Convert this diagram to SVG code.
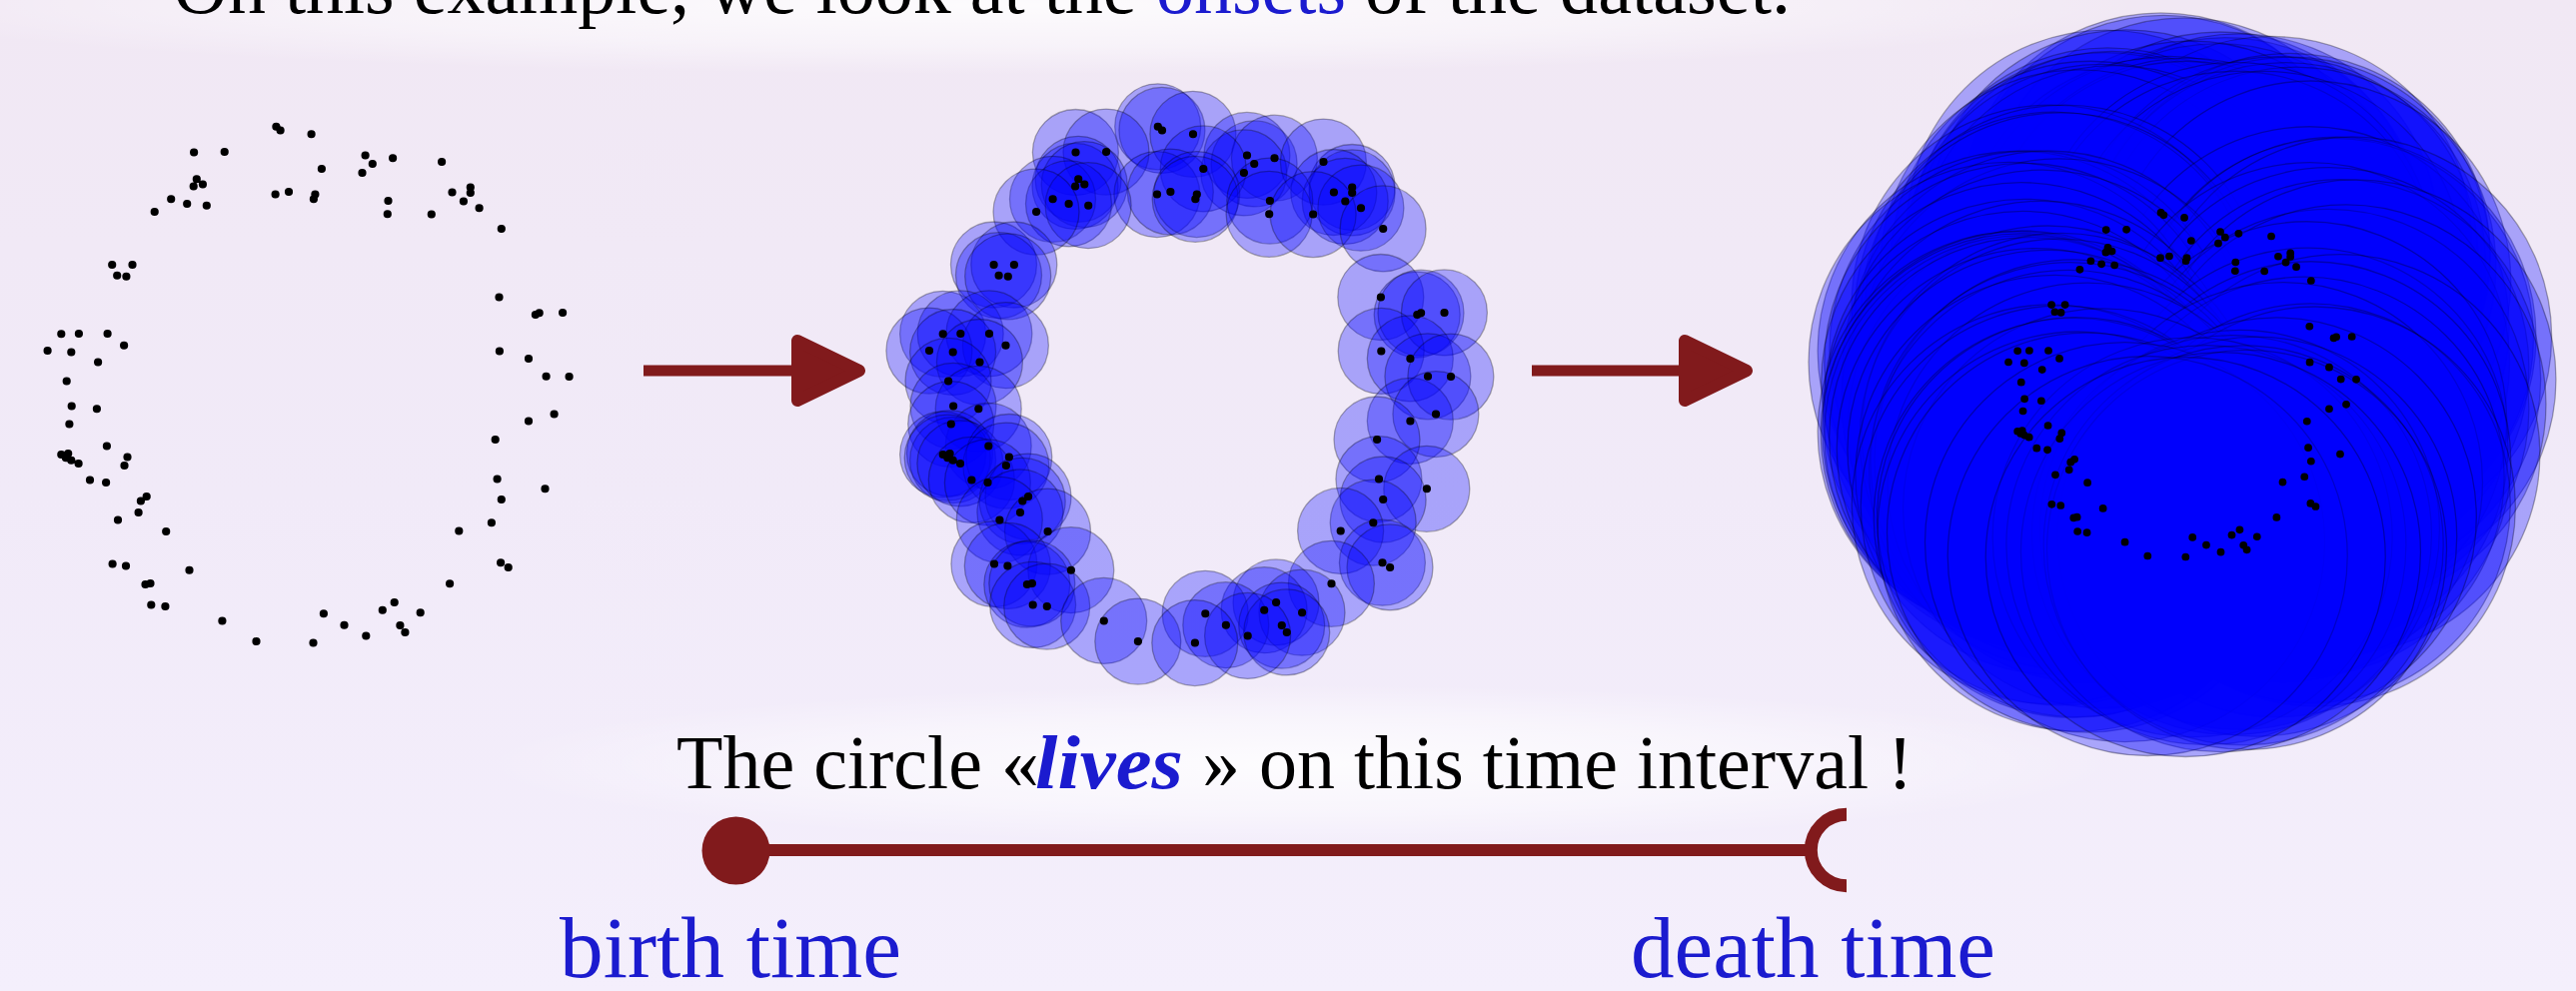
<svg xmlns="http://www.w3.org/2000/svg" xmlns:xlink="http://www.w3.org/1999/xlink" width="2578" height="992" viewBox="0 0 2578 992">
<style>
.dot{fill:none;stroke:#000;stroke-width:inherit;stroke-linecap:round}
.ball circle{fill:#0000ff;fill-opacity:.3;stroke:#000;stroke-opacity:.3;stroke-width:1.3;vector-effect:non-scaling-stroke}
.txt{font-family:"Liberation Serif","Times New Roman",serif;font-size:76px;fill:#000}
.blue{fill:#1b1bcf}
.lab{font-family:"Liberation Serif","Times New Roman",serif;font-size:87px;fill:#1b1bcf}
.red{fill:#811a1c}
.redline{stroke:#811a1c;fill:none}
</style>
<defs>
<linearGradient id="bg" x1="0" y1="0" x2="0" y2="1">
<stop offset="0" stop-color="#f1e8f4"/>
<stop offset="0.5" stop-color="#f1eaf8"/>
<stop offset="1" stop-color="#f4effc"/>
</linearGradient>
<radialGradient id="glow" cx="0.5" cy="0.5" r="0.5">
<stop offset="0" stop-color="#ffffff" stop-opacity="0.85"/>
<stop offset="0.6" stop-color="#ffffff" stop-opacity="0.45"/>
<stop offset="1" stop-color="#ffffff" stop-opacity="0"/>
</radialGradient>
<path id="dots" class="dot" d="M276.3 126.8h.2M280.5 130.4h.2M311.5 134.3h.2M194 152.5h.2M224.6 152.1h.2M365.5 155.4h.2M372.7 163.9h.2M393 158.2h.2M362.4 172.9h.2M442 162.1h.2M321.8 168.9h.2M196.7 179.3h.2M193.6 186.4h.2M202.8 184.6h.2M275.5 194.6h.2M288.9 192.1h.2M315.3 194.6h.2M313.8 199.3h.2M171.1 199.3h.2M187.1 203.9h.2M206.7 205.7h.2M154.6 212.1h.2M470.7 187.5h.2M470.7 192.9h.2M452.4 192.5h.2M463.8 201.4h.2M479.5 208.2h.2M388.4 201.1h.2M387.7 214.3h.2M431.7 214.6h.2M501.7 228.9h.2M112.1 265h.2M132.4 265h.2M117.1 275.7h.2M126.3 276.8h.2M499.4 297.5h.2M535.8 315h.2M539.6 313.2h.2M563 312.9h.2M61.2 334.3h.2M78.8 333.9h.2M107.5 333.9h.2M124 345.7h.2M47.5 351.1h.2M71.2 352.5h.2M98 362.5h.2M499.8 351.4h.2M528.9 358.9h.2M546.5 376.8h.2M569.5 377.1h.2M66.6 381.4h.2M71.6 406.4h.2M96.8 409.3h.2M69.3 424.6h.2M528.9 421.4h.2M554.5 414.6h.2M495.6 440h.2M106.8 446.4h.2M61.2 455h.2M68.1 453.9h.2M71.2 460.7h.2M65.8 458.2h.2M78.5 463.9h.2M127.4 457.5h.2M124.4 466.1h.2M89.9 480.4h.2M106 482.9h.2M497.5 479.6h.2M545.4 489.3h.2M501.7 500h.2M146.6 497.1h.2M140.8 501.4h.2M138.5 512.9h.2M117.9 520.4h.2M491.8 523.2h.2M166.1 532.1h.2M459.2 531.4h.2M112.5 564.6h.2M125.9 566.4h.2M189.4 570.7h.2M501 563.2h.2M508.6 567.9h.2M145.4 585h.2M150.4 583.9h.2M450 584.3h.2M151.2 605.4h.2M165.3 607.1h.2M394.6 602.9h.2M382.7 610.7h.2M420.6 613.2h.2M323.8 614.3h.2M222.3 621.4h.2M344.4 625.7h.2M400.3 626.1h.2M405.3 632.9h.2M366.2 636.4h.2M256.4 642.1h.2M313.4 643.6h.2"/>
</defs>
<rect width="2578" height="992" fill="url(#bg)"/>
<ellipse cx="1000" cy="5" rx="1150" ry="70" fill="url(#glow)"/>
<ellipse cx="1300" cy="765" rx="820" ry="80" fill="url(#glow)"/>

<text class="txt" y="13"><tspan x="173">On this example, we look at the</tspan><tspan class="blue" x="1157">onsets</tspan><tspan x="1366" textLength="426" lengthAdjust="spacingAndGlyphs">of the dataset.</tspan></text>

<g id="pointcloud">
<use href="#dots" xlink:href="#dots" stroke-width="8"/>
</g>

<g id="balls-small" transform="translate(882.4 0)">
<g class="ball">
<circle cx="276.3" cy="126.8" r="43"/><circle cx="280.5" cy="130.4" r="43"/><circle cx="311.5" cy="134.3" r="43"/><circle cx="194" cy="152.5" r="43"/><circle cx="224.6" cy="152.1" r="43"/><circle cx="365.5" cy="155.4" r="43"/><circle cx="372.7" cy="163.9" r="43"/><circle cx="393" cy="158.2" r="43"/><circle cx="362.4" cy="172.9" r="43"/><circle cx="442" cy="162.1" r="43"/><circle cx="321.8" cy="168.9" r="43"/><circle cx="196.7" cy="179.3" r="43"/><circle cx="193.6" cy="186.4" r="43"/><circle cx="202.8" cy="184.6" r="43"/><circle cx="275.5" cy="194.6" r="43"/><circle cx="288.9" cy="192.1" r="43"/><circle cx="315.3" cy="194.6" r="43"/><circle cx="313.8" cy="199.3" r="43"/><circle cx="171.1" cy="199.3" r="43"/><circle cx="187.1" cy="203.9" r="43"/><circle cx="206.7" cy="205.7" r="43"/><circle cx="154.6" cy="212.1" r="43"/><circle cx="470.7" cy="187.5" r="43"/><circle cx="470.7" cy="192.9" r="43"/><circle cx="452.4" cy="192.5" r="43"/><circle cx="463.8" cy="201.4" r="43"/><circle cx="479.5" cy="208.2" r="43"/><circle cx="388.4" cy="201.1" r="43"/><circle cx="387.7" cy="214.3" r="43"/><circle cx="431.7" cy="214.6" r="43"/><circle cx="501.7" cy="228.9" r="43"/><circle cx="112.1" cy="265" r="43"/><circle cx="132.4" cy="265" r="43"/><circle cx="117.1" cy="275.7" r="43"/><circle cx="126.3" cy="276.8" r="43"/><circle cx="499.4" cy="297.5" r="43"/><circle cx="535.8" cy="315" r="43"/><circle cx="539.6" cy="313.2" r="43"/><circle cx="563" cy="312.9" r="43"/><circle cx="61.2" cy="334.3" r="43"/><circle cx="78.8" cy="333.9" r="43"/><circle cx="107.5" cy="333.9" r="43"/><circle cx="124" cy="345.7" r="43"/><circle cx="47.5" cy="351.1" r="43"/><circle cx="71.2" cy="352.5" r="43"/><circle cx="98" cy="362.5" r="43"/><circle cx="499.8" cy="351.4" r="43"/><circle cx="528.9" cy="358.9" r="43"/><circle cx="546.5" cy="376.8" r="43"/><circle cx="569.5" cy="377.1" r="43"/><circle cx="66.6" cy="381.4" r="43"/><circle cx="71.6" cy="406.4" r="43"/><circle cx="96.8" cy="409.3" r="43"/><circle cx="69.3" cy="424.6" r="43"/><circle cx="528.9" cy="421.4" r="43"/><circle cx="554.5" cy="414.6" r="43"/><circle cx="495.6" cy="440" r="43"/><circle cx="106.8" cy="446.4" r="43"/><circle cx="61.2" cy="455" r="43"/><circle cx="68.1" cy="453.9" r="43"/><circle cx="71.2" cy="460.7" r="43"/><circle cx="65.8" cy="458.2" r="43"/><circle cx="78.5" cy="463.9" r="43"/><circle cx="127.4" cy="457.5" r="43"/><circle cx="124.4" cy="466.1" r="43"/><circle cx="89.9" cy="480.4" r="43"/><circle cx="106" cy="482.9" r="43"/><circle cx="497.5" cy="479.6" r="43"/><circle cx="545.4" cy="489.3" r="43"/><circle cx="501.7" cy="500" r="43"/><circle cx="146.6" cy="497.1" r="43"/><circle cx="140.8" cy="501.4" r="43"/><circle cx="138.5" cy="512.9" r="43"/><circle cx="117.9" cy="520.4" r="43"/><circle cx="491.8" cy="523.2" r="43"/><circle cx="166.1" cy="532.1" r="43"/><circle cx="459.2" cy="531.4" r="43"/><circle cx="112.5" cy="564.6" r="43"/><circle cx="125.9" cy="566.4" r="43"/><circle cx="189.4" cy="570.7" r="43"/><circle cx="501" cy="563.2" r="43"/><circle cx="508.6" cy="567.9" r="43"/><circle cx="145.4" cy="585" r="43"/><circle cx="150.4" cy="583.9" r="43"/><circle cx="450" cy="584.3" r="43"/><circle cx="151.2" cy="605.4" r="43"/><circle cx="165.3" cy="607.1" r="43"/><circle cx="394.6" cy="602.9" r="43"/><circle cx="382.7" cy="610.7" r="43"/><circle cx="420.6" cy="613.2" r="43"/><circle cx="323.8" cy="614.3" r="43"/><circle cx="222.3" cy="621.4" r="43"/><circle cx="344.4" cy="625.7" r="43"/><circle cx="400.3" cy="626.1" r="43"/><circle cx="405.3" cy="632.9" r="43"/><circle cx="366.2" cy="636.4" r="43"/><circle cx="256.4" cy="642.1" r="43"/><circle cx="313.4" cy="643.6" r="43"/>
</g>
<use href="#dots" xlink:href="#dots" stroke-width="8"/>
</g>

<g id="balls-large" transform="matrix(0.6667 0 0 0.6667 1978.3 128.4)">
<g class="ball">
<circle cx="276.3" cy="126.8" r="300"/><circle cx="280.5" cy="130.4" r="300"/><circle cx="311.5" cy="134.3" r="300"/><circle cx="194" cy="152.5" r="300"/><circle cx="224.6" cy="152.1" r="300"/><circle cx="365.5" cy="155.4" r="300"/><circle cx="372.7" cy="163.9" r="300"/><circle cx="393" cy="158.2" r="300"/><circle cx="362.4" cy="172.9" r="300"/><circle cx="442" cy="162.1" r="300"/><circle cx="321.8" cy="168.9" r="300"/><circle cx="196.7" cy="179.3" r="300"/><circle cx="193.6" cy="186.4" r="300"/><circle cx="202.8" cy="184.6" r="300"/><circle cx="275.5" cy="194.6" r="300"/><circle cx="288.9" cy="192.1" r="300"/><circle cx="315.3" cy="194.6" r="300"/><circle cx="313.8" cy="199.3" r="300"/><circle cx="171.1" cy="199.3" r="300"/><circle cx="187.1" cy="203.9" r="300"/><circle cx="206.7" cy="205.7" r="300"/><circle cx="154.6" cy="212.1" r="300"/><circle cx="470.7" cy="187.5" r="300"/><circle cx="470.7" cy="192.9" r="300"/><circle cx="452.4" cy="192.5" r="300"/><circle cx="463.8" cy="201.4" r="300"/><circle cx="479.5" cy="208.2" r="300"/><circle cx="388.4" cy="201.1" r="300"/><circle cx="387.7" cy="214.3" r="300"/><circle cx="431.7" cy="214.6" r="300"/><circle cx="501.7" cy="228.9" r="300"/><circle cx="112.1" cy="265" r="300"/><circle cx="132.4" cy="265" r="300"/><circle cx="117.1" cy="275.7" r="300"/><circle cx="126.3" cy="276.8" r="300"/><circle cx="499.4" cy="297.5" r="300"/><circle cx="535.8" cy="315" r="300"/><circle cx="539.6" cy="313.2" r="300"/><circle cx="563" cy="312.9" r="300"/><circle cx="61.2" cy="334.3" r="300"/><circle cx="78.8" cy="333.9" r="300"/><circle cx="107.5" cy="333.9" r="300"/><circle cx="124" cy="345.7" r="300"/><circle cx="47.5" cy="351.1" r="300"/><circle cx="71.2" cy="352.5" r="300"/><circle cx="98" cy="362.5" r="300"/><circle cx="499.8" cy="351.4" r="300"/><circle cx="528.9" cy="358.9" r="300"/><circle cx="546.5" cy="376.8" r="300"/><circle cx="569.5" cy="377.1" r="300"/><circle cx="66.6" cy="381.4" r="300"/><circle cx="71.6" cy="406.4" r="300"/><circle cx="96.8" cy="409.3" r="300"/><circle cx="69.3" cy="424.6" r="300"/><circle cx="528.9" cy="421.4" r="300"/><circle cx="554.5" cy="414.6" r="300"/><circle cx="495.6" cy="440" r="300"/><circle cx="106.8" cy="446.4" r="300"/><circle cx="61.2" cy="455" r="300"/><circle cx="68.1" cy="453.9" r="300"/><circle cx="71.2" cy="460.7" r="300"/><circle cx="65.8" cy="458.2" r="300"/><circle cx="78.5" cy="463.9" r="300"/><circle cx="127.4" cy="457.5" r="300"/><circle cx="124.4" cy="466.1" r="300"/><circle cx="89.9" cy="480.4" r="300"/><circle cx="106" cy="482.9" r="300"/><circle cx="497.5" cy="479.6" r="300"/><circle cx="545.4" cy="489.3" r="300"/><circle cx="501.7" cy="500" r="300"/><circle cx="146.6" cy="497.1" r="300"/><circle cx="140.8" cy="501.4" r="300"/><circle cx="138.5" cy="512.9" r="300"/><circle cx="117.9" cy="520.4" r="300"/><circle cx="491.8" cy="523.2" r="300"/><circle cx="166.1" cy="532.1" r="300"/><circle cx="459.2" cy="531.4" r="300"/><circle cx="112.5" cy="564.6" r="300"/><circle cx="125.9" cy="566.4" r="300"/><circle cx="189.4" cy="570.7" r="300"/><circle cx="501" cy="563.2" r="300"/><circle cx="508.6" cy="567.9" r="300"/><circle cx="145.4" cy="585" r="300"/><circle cx="150.4" cy="583.9" r="300"/><circle cx="450" cy="584.3" r="300"/><circle cx="151.2" cy="605.4" r="300"/><circle cx="165.3" cy="607.1" r="300"/><circle cx="394.6" cy="602.9" r="300"/><circle cx="382.7" cy="610.7" r="300"/><circle cx="420.6" cy="613.2" r="300"/><circle cx="323.8" cy="614.3" r="300"/><circle cx="222.3" cy="621.4" r="300"/><circle cx="344.4" cy="625.7" r="300"/><circle cx="400.3" cy="626.1" r="300"/><circle cx="405.3" cy="632.9" r="300"/><circle cx="366.2" cy="636.4" r="300"/><circle cx="256.4" cy="642.1" r="300"/><circle cx="313.4" cy="643.6" r="300"/>
</g>
<use href="#dots" xlink:href="#dots" stroke-width="11.5"/>
</g>

<g id="connectors">
<line class="redline" x1="644" y1="371" x2="800" y2="371" stroke-width="11"/>
<polygon class="red" points="798,341 798,401 860,371" stroke="#811a1c" stroke-width="12" stroke-linejoin="round"/>
<line class="redline" x1="1533" y1="371" x2="1690" y2="371" stroke-width="11"/>
<polygon class="red" points="1686,341 1686,401 1748,371" stroke="#811a1c" stroke-width="12" stroke-linejoin="round"/>
</g>

<g id="interval">
<line class="redline" x1="760" y1="851" x2="1815" y2="851" stroke-width="12"/>
<circle class="red" cx="736.5" cy="851.5" r="34"/>
<path class="redline" d="M1848 815.3A35.7 35.7 0 0 0 1848 886.7" stroke-width="13"/>
</g>

<text class="txt" y="789"><tspan x="677">The circle «</tspan><tspan class="blue" x="1036" font-weight="bold" font-style="italic" textLength="148" lengthAdjust="spacingAndGlyphs">lives</tspan><tspan x="1203">» on this time interval !</tspan></text>

<text class="lab" x="560" y="978" textLength="342" lengthAdjust="spacingAndGlyphs">birth time</text>
<text class="lab" x="1632" y="978" textLength="365" lengthAdjust="spacingAndGlyphs">death time</text>
</svg>
